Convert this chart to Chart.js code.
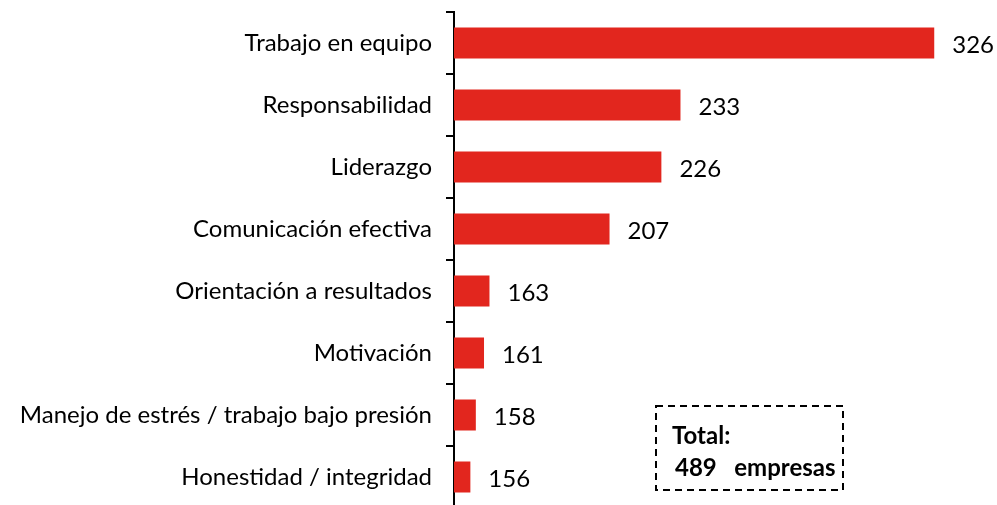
<!DOCTYPE html>
<html>
<head>
<meta charset="utf-8">
<script src="https://cdn.jsdelivr.net/npm/chart.js@4.4.1/dist/chart.umd.min.js"></script>
<style>
    html, body { margin: 0; padding: 0; background: #fff; overflow: hidden; }
    #wrap { width: 997px; height: 508px; position: relative; }
</style>
</head>
<body>
<div id="wrap"><canvas id="chart"></canvas></div>
<script>
const categories = [
    'Trabajo en equipo',
    'Responsabilidad',
    'Liderazgo',
    'Comunicación efectiva',
    'Orientación a resultados',
    'Motivación',
    'Manejo de estrés / trabajo bajo presión',
    'Honestidad / integridad'
];
const companies = [326, 233, 226, 207, 163, 161, 158, 156];
const totalLines = ['Total:', '489   empresas'];

const FONT = 'Lato, "Open Sans", sans-serif';
const RED = '#E2261E';

// value labels to the right of every bar
const valueLabels = {
    id: 'valueLabels',
    afterDatasetsDraw(chart) {
        const ctx = chart.ctx;
        const meta = chart.getDatasetMeta(0);
        ctx.save();
        ctx.font = '24px ' + FONT;
        ctx.fillStyle = '#000';
        ctx.textBaseline = 'middle';
        ctx.textAlign = 'left';
        meta.data.forEach((bar, i) => {
            ctx.fillText(String(companies[i]), bar.x + 18, bar.y + 2);
        });
        ctx.restore();
    }
};

// dashed "Total" box in the lower right
const totalBox = {
    id: 'totalBox',
    afterDraw(chart) {
        const ctx = chart.ctx;
        ctx.save();
        ctx.strokeStyle = '#000';
        ctx.lineWidth = 2;
        ctx.setLineDash([7, 5]);
        ctx.strokeRect(656, 406, 187, 84);
        ctx.setLineDash([]);
        ctx.font = 'bold 24px ' + FONT;
        ctx.fillStyle = '#000';
        ctx.textBaseline = 'middle';
        ctx.fillText(totalLines[0], 672, 436);
        ctx.fillText(totalLines[1], 675, 468);
        ctx.restore();
    }
};

new Chart(document.getElementById('chart'), {
    type: 'bar',
    data: {
        labels: categories,
        datasets: [{
            data: companies,
            backgroundColor: RED,
            borderWidth: 0,
            barPercentage: 0.5,
            categoryPercentage: 1
        }]
    },
    options: {
        indexAxis: 'y',
        responsive: true,
        maintainAspectRatio: false,
        animation: false,
        layout: { padding: { top: 12, right: 0, bottom: 0, left: 0 } },
        plugins: { legend: { display: false }, tooltip: { enabled: false } },
        scales: {
            x: { display: false, min: 150, max: 349 },
            y: {
                afterFit: (scale) => {
                    scale.width = 454;
                    scale.paddingTop = 0;
                    scale.paddingBottom = 0;
                },
                border: { display: true, color: '#000', width: 2 },
                grid: { drawOnChartArea: false, drawTicks: true, tickLength: 8, color: '#000', lineWidth: 2, offset: true },
                ticks: { color: '#000', padding: 14, font: { family: FONT, size: 24 } }
            }
        }
    },
    plugins: [valueLabels, totalBox]
});
</script>
</body>
</html>
